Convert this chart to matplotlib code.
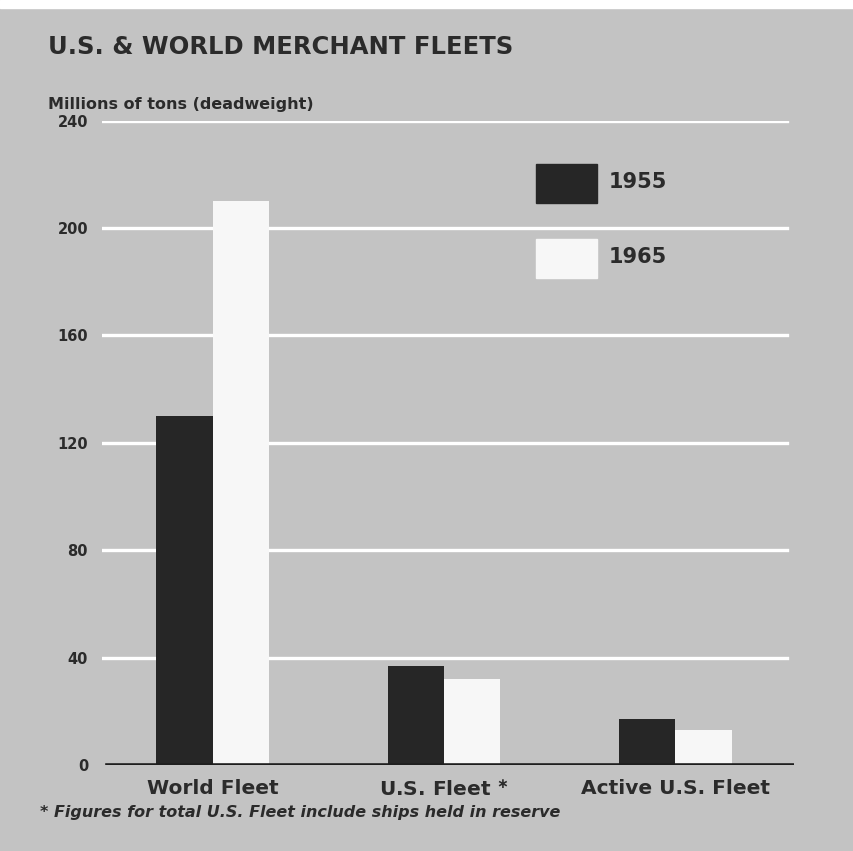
import numpy as np
import matplotlib
matplotlib.use("Agg")
import matplotlib.pyplot as plt
from matplotlib.patches import Rectangle

# values (millions of tons, deadweight)
categories = ["World Fleet", "U.S. Fleet", "Active U.S. Fleet"]
tons_1955 = [130, 37, 17]
tons_1965 = [210, 32, 13]
years = ["1955", "1965"]
yticks = [0, 40, 80, 120, 160, 200, 240]

bg = "#c3c3c3"
dark = "#262626"
light = "#f7f7f7"
txt = "#2b2b2b"

plt.rcParams["font.family"] = ["DejaVu Sans"]

W, H = 854, 851
fig = plt.figure(figsize=(W / 100, H / 100), dpi=100, facecolor=bg)
# thin white margin on top like the scan
fig.patches.append(Rectangle((0, 0.991), 1, 0.009, transform=fig.transFigure,
                             color="white", zorder=0))

ax = fig.add_axes([102 / W, 1 - 765 / H, (794 - 102) / W, (765 - 120.7) / H])
ax.set_facecolor("none")
for s in ax.spines.values():
    s.set_visible(False)

x = np.arange(len(categories))
w = 0.244
ax.set_xlim(-0.479, 2.514)
ax.set_ylim(0, 240)

# white grid lines behind bars
for t in yticks[1:]:
    ax.axhline(t, xmin=0.0, xmax=0.99, color="white", lw=2.4, zorder=1)

ax.bar(x - w / 2, tons_1955, width=w, color=dark, zorder=2)
ax.bar(x + w / 2, tons_1965, width=w, color=light, zorder=2)

# baseline
ax.axhline(0, xmin=0.007, xmax=1.0, color="#1e1e1e", lw=2.6, zorder=3)

ax.set_yticks(yticks)
ax.set_yticklabels([str(t) for t in yticks], fontsize=10.5, fontweight="bold",
                   color=txt)
ax.tick_params(axis="y", length=0, pad=10)
ax.set_xticks(x)
cat_labels = [categories[0], categories[1] + r" $^{\mathbf{\ast}}$", categories[2]]
ax.set_xticklabels(cat_labels, fontsize=14.5, fontweight="bold", color=txt)
ax.tick_params(axis="x", length=0, pad=10)

# legend boxes drawn by hand to sit inside the plot
leg_colors = [dark, light]
leg_bottoms = [203, 278]
for yr, c, yb in zip(years, leg_colors, leg_bottoms):
    fig.patches.append(Rectangle((536 / W, 1 - yb / H), 61 / W, 39 / H,
                                 transform=fig.transFigure, color=c, zorder=3))
    fig.text(609 / W, 1 - (yb - 21) / H, yr, fontsize=15, fontweight="bold",
             color=txt, va="center", ha="left")

fig.text(48 / W, 1 - 47 / H, "U.S. & WORLD MERCHANT FLEETS", fontsize=17.5,
         fontweight="bold", color=txt, va="center", ha="left")
fig.text(48 / W, 1 - 104 / H, "Millions of tons (deadweight)", fontsize=11.5,
         fontweight="bold", color=txt, va="center", ha="left")
fig.text(40 / W, 1 - 812 / H,
         "* Figures for total U.S. Fleet include ships held in reserve",
         fontsize=11.5, fontweight="bold", style="italic", color=txt,
         va="center", ha="left")

fig.savefig("out.png", dpi=100, facecolor=bg)
